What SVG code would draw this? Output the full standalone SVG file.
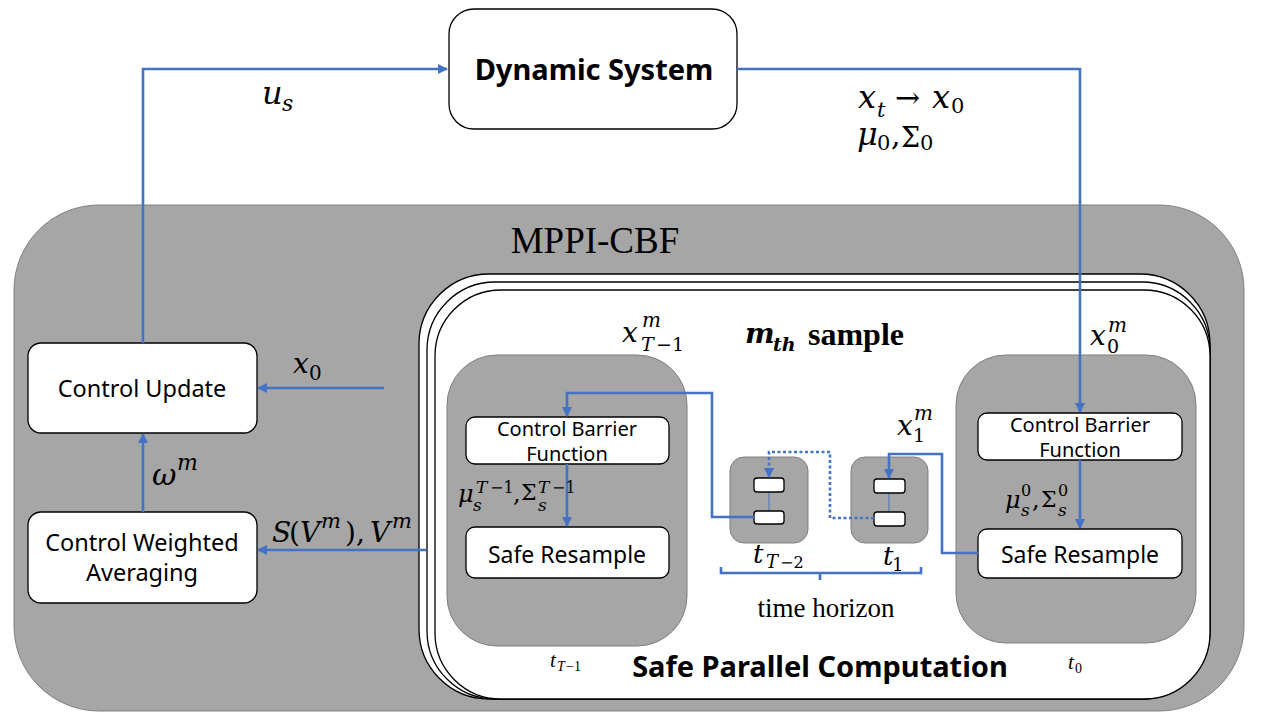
<svg xmlns="http://www.w3.org/2000/svg" width="1280" height="720" viewBox="0 0 1280 720">
<defs>
<marker id="ah" viewBox="0 0 10 10" refX="9" refY="5" markerWidth="4" markerHeight="4" orient="auto" markerUnits="strokeWidth">
<path d="M0,0 L10,5 L0,10 z" fill="#4472C4"/>
</marker>
<style>
.panel{fill:#A6A6A6;stroke:#7F7F7F;stroke-width:1}
.wbox{fill:#fff;stroke:#000;stroke-width:1.3}
.stack{fill:#fff;stroke:#000;stroke-width:1.3}
.conn{fill:none;stroke:#4472C4;stroke-width:2.6}
.thin{fill:none;stroke:#4472C4;stroke-width:1}
.sans{font-family:"Noto Sans","Open Sans",sans-serif;fill:#000}
.m{font-family:"DejaVu Serif","Liberation Serif",serif;font-style:italic;fill:#000}
.mu{font-family:"DejaVu Serif","Liberation Serif",serif;fill:#000}
.tm{font-family:"Liberation Serif",serif;font-style:italic;fill:#000}
.tu{font-family:"Liberation Serif",serif;fill:#000}
.serif{font-family:"Liberation Serif",serif;fill:#000}
</style>
</defs>
<rect width="1280" height="720" fill="#fff"/>

<g id="mppi-cbf">
<rect class="panel" x="14" y="205" width="1230" height="506" rx="85"/>
<text class="serif" x="595" y="253" font-size="37" text-anchor="middle">MPPI-CBF</text>
</g>

<g id="safe-parallel">
<rect class="stack" x="419" y="274" width="791" height="425" rx="70"/>
<rect class="stack" x="427" y="282" width="783" height="417" rx="68"/>
<rect class="stack" x="435" y="290" width="775" height="409" rx="66"/>
<text class="sans" x="820" y="677" font-size="29" font-weight="bold" text-anchor="middle">Safe Parallel Computation</text>
</g>

<g id="dynamic-system">
<rect class="wbox" x="449" y="9" width="288" height="120" rx="25"/>
<text class="sans" x="594" y="80" font-size="29" font-weight="bold" text-anchor="middle">Dynamic System</text>
</g>

<g id="control-update">
<rect class="wbox" x="28" y="343" width="229" height="90" rx="13"/>
<text class="sans" x="142" y="397" font-size="23.5" text-anchor="middle">Control Update</text>
</g>

<g id="control-weighted">
<rect class="wbox" x="28" y="512" width="229" height="91" rx="13"/>
<text class="sans" x="142" y="551" font-size="23.5" text-anchor="middle">Control Weighted</text>
<text class="sans" x="142" y="581" font-size="23.5" text-anchor="middle">Averaging</text>
</g>

<g id="step-tT-1">
<rect class="panel" x="447" y="355" width="240" height="291" rx="50"/>
<rect class="wbox" x="466" y="417" width="203" height="47" rx="9"/>
<text class="sans" x="567" y="436" font-size="20" text-anchor="middle">Control Barrier</text>
<text class="sans" x="567" y="461" font-size="20" text-anchor="middle">Function</text>
<rect class="wbox" x="466" y="527" width="203" height="51" rx="9"/>
<text class="sans" x="567" y="563" font-size="23" text-anchor="middle">Safe Resample</text>
</g>

<g id="step-t0">
<rect class="panel" x="956" y="355" width="240" height="288" rx="50"/>
<rect class="wbox" x="978" y="413" width="204" height="47" rx="9"/>
<text class="sans" x="1080" y="432" font-size="20" text-anchor="middle">Control Barrier</text>
<text class="sans" x="1080" y="457" font-size="20" text-anchor="middle">Function</text>
<rect class="wbox" x="978" y="529" width="204" height="49" rx="9"/>
<text class="sans" x="1080" y="563" font-size="23" text-anchor="middle">Safe Resample</text>
</g>

<g id="step-tT-2">
<rect class="panel" x="730" y="457" width="78" height="86" rx="14"/>
<line class="thin" x1="769" y1="492" x2="769" y2="511"/>
<rect class="wbox" x="754" y="478" width="30" height="14" rx="3"/>
<rect class="wbox" x="754" y="511" width="30" height="13" rx="3"/>
</g>

<g id="step-t1">
<rect class="panel" x="851" y="457" width="77" height="86" rx="14"/>
<line class="thin" x1="889" y1="493" x2="889" y2="512"/>
<rect class="wbox" x="874" y="479" width="31" height="14" rx="3"/>
<rect class="wbox" x="874" y="512" width="31" height="14" rx="3"/>
</g>

<g id="connectors">
<path class="conn" d="M143,343 V69 H447" marker-end="url(#ah)"/>
<path class="conn" d="M737,69 H1080 V412" marker-end="url(#ah)"/>
<path class="conn" d="M1080,460 V528" marker-end="url(#ah)"/>
<path class="conn" d="M978,553 H942 V454 H889 V478" marker-end="url(#ah)"/>
<path class="conn" d="M874,518 H830 V452 H769 V477" stroke-dasharray="3,2.5" marker-end="url(#ah)"/>
<path class="conn" d="M754,517 H712 V393 H567 V416" marker-end="url(#ah)"/>
<path class="conn" d="M567,464 V526" marker-end="url(#ah)"/>
<path class="conn" d="M384,388 H258" marker-end="url(#ah)"/>
<path class="conn" d="M426,550 H258" marker-end="url(#ah)"/>
<path class="conn" d="M143,512 V434" marker-end="url(#ah)"/>
<path class="conn" d="M721,567 V573 H921 V567 M820,573 V580" stroke-width="2.2"/>
</g>

<g id="labels">
<text class="m" x="262" y="104" font-size="32">u</text>
<text class="m" x="282" y="111" font-size="22">s</text>

<text class="m" x="858" y="108" font-size="32">x</text>
<text class="m" x="877" y="117" font-size="21">t</text>
<text class="mu" x="895" y="108" font-size="30">→</text>
<text class="m" x="932" y="108" font-size="32">x</text>
<text class="mu" x="951" y="113" font-size="21">0</text>
<text class="m" x="857" y="145" font-size="32">μ</text>
<text class="mu" x="877" y="150" font-size="21">0</text>
<text class="mu" x="891" y="145" font-size="30">,</text>
<text class="mu" x="901" y="147" font-size="27">Σ</text>
<text class="mu" x="920" y="150" font-size="21">0</text>

<text class="m" x="293" y="373" font-size="28">x</text>
<text class="mu" x="309" y="380" font-size="20">0</text>

<text class="m" x="152" y="485" font-size="30">ω</text>
<text class="m" x="177" y="470" font-size="22">m</text>

<text class="m" x="272" y="542" font-size="28">S</text>
<text class="mu" x="289" y="542" font-size="28">(</text>
<text class="m" x="300" y="542" font-size="28">V</text>
<text class="m" x="321" y="528" font-size="21">m</text>
<text class="mu" x="345" y="542" font-size="28">),</text>
<text class="m" x="370" y="542" font-size="28">V</text>
<text class="m" x="392" y="528" font-size="21">m</text>

<text class="m" x="622" y="342" font-size="28">x</text>
<text class="m" x="642" y="327" font-size="20">m</text>
<text class="m" x="641" y="351" font-size="19">T</text>
<text class="mu" x="656" y="351" font-size="19">−1</text>

<text class="m" x="745" y="343" font-size="28" font-weight="bold">m</text>
<text class="m" x="773" y="351" font-size="19" font-weight="bold">th</text>
<text class="serif" x="808" y="345" font-size="32" font-weight="bold">sample</text>

<text class="m" x="1090" y="345" font-size="28">x</text>
<text class="m" x="1108" y="332" font-size="20">m</text>
<text class="mu" x="1107" y="353" font-size="19">0</text>

<text class="m" x="897" y="435" font-size="28">x</text>
<text class="m" x="914" y="420" font-size="20">m</text>
<text class="mu" x="913" y="442" font-size="19">1</text>

<text class="m" x="458" y="502" font-size="24">μ</text>
<text class="m" x="473" y="511" font-size="17">s</text>
<text class="m" x="476" y="493" font-size="17">T</text>
<text class="mu" x="490" y="493" font-size="16">−1</text>
<text class="mu" x="513" y="502" font-size="24">,</text>
<text class="mu" x="521" y="500" font-size="22">Σ</text>
<text class="m" x="538" y="511" font-size="17">s</text>
<text class="m" x="538" y="493" font-size="17">T</text>
<text class="mu" x="552" y="493" font-size="16">−1</text>

<text class="m" x="1005" y="508" font-size="24">μ</text>
<text class="mu" x="1021" y="496" font-size="16">0</text>
<text class="m" x="1021" y="516" font-size="17">s</text>
<text class="mu" x="1032" y="508" font-size="24">,</text>
<text class="mu" x="1041" y="507" font-size="22">Σ</text>
<text class="mu" x="1058" y="496" font-size="16">0</text>
<text class="m" x="1058" y="516" font-size="17">s</text>

<text class="m" x="753" y="563" font-size="26">t</text>
<text class="m" x="766" y="568" font-size="18">T</text>
<text class="mu" x="780" y="568" font-size="16">−2</text>
<text class="m" x="883" y="565" font-size="26">t</text>
<text class="mu" x="892" y="571" font-size="18">1</text>

<text class="serif" x="826" y="617" font-size="27" text-anchor="middle">time horizon</text>

<text class="tm" x="550" y="667" font-size="21">t</text>
<text class="tm" x="557" y="671" font-size="14">T</text>
<text class="tu" x="566" y="671" font-size="14">−1</text>
<text class="tm" x="1068" y="669" font-size="21">t</text>
<text class="tu" x="1075" y="673" font-size="14">0</text>
</g>
</svg>
